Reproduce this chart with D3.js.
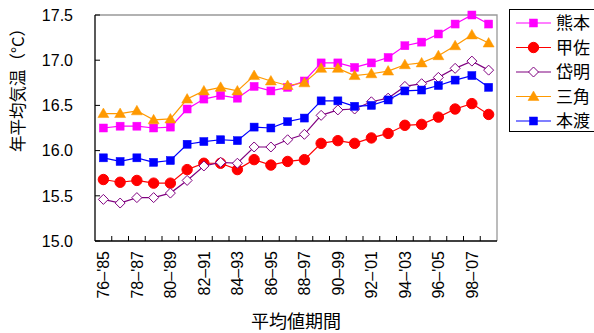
<!DOCTYPE html>
<html>
<head>
<meta charset="utf-8">
<script src="https://cdn.jsdelivr.net/npm/d3@7"></script>
<style>
  html, body { margin: 0; padding: 0; background: #fff; }
  svg { display: block; font-family: "Liberation Sans", Arial, "Noto Sans CJK JP", sans-serif; }
  .jp { font-family: "Noto Sans CJK JP", sans-serif; }
</style>
</head>
<body>
<svg id="chart" width="594" height="333"></svg>
<script>
// 10-year running mean periods
const periods = ["76–'85","77–'86","78–'87","79–'88","80–'89","81–'90","82–91","83–92","84–93","85–94",
  "86–95","87–96","88–97","89–98","90–99","91–'00","92–'01","93–'02","94–'03","95–'04",
  "96–'05","97–'06","98–'07","99–'08"];

// annual mean temperature (°C) per station
const kumamoto = [16.25,16.27,16.27,16.25,16.26,16.46,16.57,16.61,16.58,16.71,16.66,16.70,16.77,16.97,16.97,16.92,16.97,17.03,17.16,17.20,17.29,17.40,17.50,17.40];
const kosa     = [15.68,15.65,15.67,15.64,15.64,15.79,15.86,15.86,15.79,15.90,15.84,15.88,15.90,16.08,16.11,16.08,16.14,16.19,16.28,16.29,16.37,16.46,16.52,16.40];
const taimei   = [15.46,15.42,15.48,15.48,15.53,15.67,15.83,15.87,15.86,16.04,16.04,16.12,16.18,16.39,16.45,16.46,16.54,16.58,16.71,16.74,16.81,16.91,16.99,16.89];
const misumi   = [16.41,16.41,16.44,16.34,16.35,16.57,16.66,16.70,16.66,16.83,16.77,16.72,16.75,16.91,16.91,16.83,16.85,16.88,16.95,16.97,17.05,17.16,17.28,17.19];
const hondo    = [15.92,15.88,15.92,15.87,15.89,16.07,16.10,16.12,16.11,16.26,16.25,16.32,16.36,16.55,16.55,16.49,16.50,16.56,16.66,16.67,16.72,16.78,16.83,16.70];

const yTicks = [15.0, 15.5, 16.0, 16.5, 17.0, 17.5];

const series = [
  { name: "熊本", values: kumamoto, color: "#ff00ff", shape: "square", fill: "#ff00ff" },
  { name: "甲佐", values: kosa,     color: "#ff0000", shape: "circle", fill: "#ff0000" },
  { name: "岱明", values: taimei,   color: "#800080", shape: "diamond", fill: "#ffffff" },
  { name: "三角", values: misumi,   color: "#ff9900", shape: "triangle", fill: "#ff9900" },
  { name: "本渡", values: hondo,    color: "#0000ff", shape: "square", fill: "#0000ff" }
];

const svg = d3.select("#chart");
const plot = { left: 95, right: 497, top: 15, bottom: 241 };

const x = d3.scaleBand().domain(periods).range([plot.left, plot.right]).padding(0);
const y = d3.scaleLinear().domain([15.0, 17.5]).range([plot.bottom, plot.top]);
const cx = d => x(d) + x.bandwidth() / 2;

// plot-area frame (top and right)
svg.append("path")
  .attr("d", `M${plot.left},${plot.top}H${plot.right}V${plot.bottom}`)
  .attr("fill", "none").attr("stroke", "#999").attr("stroke-width", 1.3);

// y axis: inward ticks
const yAxis = svg.append("g").attr("transform", `translate(${plot.left},0)`);
yAxis.append("line").attr("x1", 0).attr("x2", 0).attr("y1", plot.top).attr("y2", plot.bottom)
  .attr("stroke", "#000").attr("stroke-width", 1.3);
yTicks.forEach(t => {
  yAxis.append("line").attr("x1", 0).attr("x2", 5).attr("y1", y(t)).attr("y2", y(t))
    .attr("stroke", "#000").attr("stroke-width", 1);
  yAxis.append("text").attr("x", -22).attr("y", y(t)).attr("dy", "0.36em")
    .attr("text-anchor", "end").attr("font-size", 16).attr("fill", "#000")
    .text(d3.format(".1f")(t));
});

// x axis: inward ticks at period boundaries
const xAxis = svg.append("g");
xAxis.append("line").attr("x1", plot.left).attr("x2", plot.right).attr("y1", plot.bottom).attr("y2", plot.bottom)
  .attr("stroke", "#000").attr("stroke-width", 1.3);
periods.forEach((p, i) => {
  if (i > 0) {
    xAxis.append("line").attr("x1", x(p)).attr("x2", x(p)).attr("y1", plot.bottom).attr("y2", plot.bottom - 5)
      .attr("stroke", "#000").attr("stroke-width", 1);
  }
  if (i % 2 === 0) {
    xAxis.append("text")
      .attr("transform", `translate(${cx(p)},${plot.bottom + 10}) rotate(-90)`)
      .attr("text-anchor", "end").attr("dy", "0.36em")
      .attr("font-size", 16).attr("fill", "#000")
      .text(p);
  }
});

// axis titles
svg.append("text").attr("class", "jp")
  .attr("transform", `translate(18,86) rotate(-90)`)
  .attr("text-anchor", "middle").attr("dy", "0.36em").attr("font-size", 16.5).attr("fill", "#000")
  .text("年平均気温（°C）");
svg.append("text").attr("class", "jp")
  .attr("x", (plot.left + plot.right) / 2).attr("y", 322).attr("dy", "0.36em")
  .attr("text-anchor", "middle").attr("font-size", 18).attr("fill", "#000")
  .text("平均値期間");

// marker generator
function marker(g, shape, color, fill) {
  if (shape === "square") {
    g.append("rect").attr("x", -4).attr("y", -4).attr("width", 8).attr("height", 8)
      .attr("fill", fill).attr("stroke", color).attr("stroke-width", 0.5);
  } else if (shape === "circle") {
    g.append("circle").attr("r", 5.2).attr("fill", fill).attr("stroke", color);
  } else if (shape === "diamond") {
    g.append("path").attr("d", "M0,-5L5,0L0,5L-5,0Z")
      .attr("fill", fill).attr("stroke", color).attr("stroke-width", 1);
  } else if (shape === "triangle") {
    g.append("path").attr("d", "M0,-5.5L5.5,4L-5.5,4Z").attr("fill", fill).attr("stroke", color).attr("stroke-width", 0.5);
  }
}

const line = d3.line().x((d, i) => cx(periods[i])).y(d => y(d));

series.forEach(s => {
  const g = svg.append("g");
  g.append("path").datum(s.values).attr("d", line)
    .attr("fill", "none").attr("stroke", s.color).attr("stroke-width", 1.2);
  s.values.forEach((v, i) => {
    const m = g.append("g").attr("transform", `translate(${cx(periods[i])},${y(v)})`);
    marker(m, s.shape, s.color, s.fill);
  });
});

// legend
const legend = svg.append("g");
legend.append("rect").attr("x", 509.5).attr("y", 9.5).attr("width", 90).attr("height", 122)
  .attr("fill", "#fff").attr("stroke", "#000").attr("stroke-width", 1);
series.forEach((s, i) => {
  const ly = 23 + i * 24.5;
  legend.append("line").attr("x1", 516).attr("x2", 551).attr("y1", ly).attr("y2", ly)
    .attr("stroke", s.color).attr("stroke-width", 1.2);
  const m = legend.append("g").attr("transform", `translate(533.5,${ly})`);
  marker(m, s.shape, s.color, s.fill);
  legend.append("text").attr("class", "jp").attr("x", 556).attr("y", ly).attr("dy", "0.36em")
    .attr("font-size", 17).attr("fill", "#000").text(s.name);
});
</script>
</body>
</html>
